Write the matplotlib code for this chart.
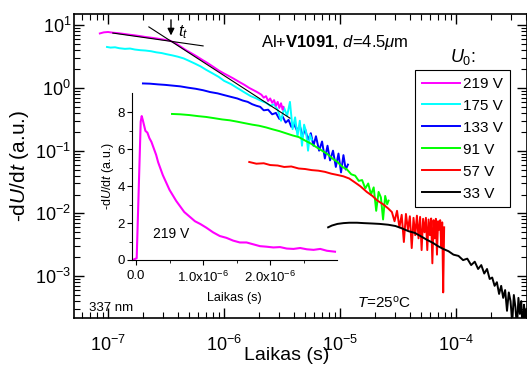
import matplotlib
matplotlib.use("Agg")
import matplotlib.pyplot as plt
import numpy as np

plt.rcParams['font.family'] = ['Liberation Sans', 'DejaVu Sans']
plt.rcParams['mathtext.fontset'] = 'custom'
plt.rcParams['mathtext.rm'] = 'Liberation Sans'
plt.rcParams['mathtext.it'] = 'Liberation Sans:italic'
plt.rcParams['mathtext.bf'] = 'Liberation Sans:bold'

# --- duomenys (nuskaityta is grafiko) ---
t_219 = [8.5e-8, 9.2e-8, 1.0e-7, 1.1e-7, 1.2e-7, 1.35e-7, 1.5e-7, 1.7e-7, 1.9e-7, 2.1e-7,
         2.4e-7, 2.7e-7, 3.0e-7, 3.4e-7, 3.8e-7, 4.2e-7, 4.7e-7, 5.2e-7, 5.8e-7, 6.5e-7,
         7.2e-7, 8.0e-7, 9.0e-7, 1.0e-6, 1.1e-6, 1.2e-6, 1.35e-6, 1.5e-6, 1.65e-6, 1.8e-6,
         1.95e-6, 2.1e-6, 2.2e-6, 2.3e-6, 2.4e-6, 2.5e-6, 2.6e-6, 2.7e-6, 2.8e-6, 2.9e-6,
         3.0e-6, 3.1e-6, 3.2e-6, 3.25e-6]
y_219 = [7.4, 7.7, 7.8, 7.6, 7.5, 7.3, 7.1, 6.9, 6.7, 6.5,
         6.3, 6.1, 5.9, 5.7, 5.2, 4.6, 4.0, 3.6, 3.2, 2.8,
         2.5, 2.2, 1.9, 1.7, 1.55, 1.42, 1.25, 1.12, 1.0, 0.92,
         0.85, 0.78, 0.70, 0.74, 0.62, 0.68, 0.58, 0.64, 0.52, 0.60,
         0.48, 0.57, 0.45, 0.50]

t_175 = [9.8e-8, 1.05e-7, 1.15e-7, 1.25e-7, 1.4e-7, 1.55e-7, 1.7e-7, 1.9e-7, 2.1e-7, 2.35e-7,
         2.6e-7, 2.9e-7, 3.2e-7, 3.6e-7, 4.0e-7, 4.5e-7, 5.0e-7, 5.6e-7, 6.3e-7, 7.0e-7,
         8.0e-7, 9.0e-7, 1.0e-6, 1.15e-6, 1.3e-6, 1.5e-6, 1.7e-6, 1.9e-6, 2.1e-6, 2.3e-6,
         2.5e-6, 2.7e-6, 2.9e-6, 3.1e-6, 3.3e-6, 3.5e-6, 3.7e-6, 3.9e-6, 4.1e-6, 4.3e-6,
         4.5e-6, 4.7e-6, 4.9e-6, 5.1e-6, 5.3e-6, 5.5e-6, 5.7e-6]
y_175 = [4.5, 4.4, 4.45, 4.3, 4.2, 4.25, 4.1, 4.0, 3.95, 3.85,
         3.7, 3.6, 3.45, 3.3, 3.15, 2.95, 2.7, 2.45, 2.2, 1.95,
         1.7, 1.5, 1.3, 1.15, 1.0, 0.85, 0.74, 0.68, 0.62, 0.58,
         0.52, 0.55, 0.45, 0.30, 0.48, 0.36, 0.60, 0.22, 0.34, 0.17,
         0.30, 0.12, 0.26, 0.20, 0.10, 0.18, 0.15]

t_133 = [2.0e-7, 2.3e-7, 2.7e-7, 3.1e-7, 3.6e-7, 4.2e-7, 4.9e-7, 5.7e-7, 6.6e-7, 7.6e-7,
         8.8e-7, 1.0e-6, 1.15e-6, 1.3e-6, 1.45e-6, 1.6e-6, 1.75e-6, 1.9e-6, 2.05e-6, 2.2e-6,
         2.4e-6, 2.6e-6, 2.8e-6, 3.0e-6, 3.2e-6, 3.4e-6, 3.6e-6, 3.8e-6, 4.0e-6, 4.25e-6,
         4.5e-6, 4.75e-6, 5.0e-6, 5.3e-6, 5.6e-6, 5.9e-6, 6.2e-6, 6.6e-6, 7.0e-6, 7.4e-6,
         7.8e-6, 8.2e-6, 8.7e-6, 9.2e-6, 9.7e-6, 1.02e-5, 1.07e-5, 1.12e-5, 1.17e-5]
y_133 = [1.18, 1.17, 1.14, 1.12, 1.09, 1.06, 1.01, 0.97, 0.92, 0.86,
         0.82, 0.77, 0.72, 0.68, 0.63, 0.60, 0.55, 0.52, 0.50, 0.44,
         0.45, 0.38, 0.40, 0.32, 0.35, 0.28, 0.31, 0.24, 0.27, 0.21,
         0.25, 0.17, 0.22, 0.15, 0.19, 0.12, 0.17, 0.10, 0.14, 0.075,
         0.12, 0.07, 0.10, 0.055, 0.09, 0.045, 0.085, 0.05, 0.06]

t_91 = [3.56e-7, 4.2e-7, 5.0e-7, 6.0e-7, 7.0e-7, 8.2e-7, 9.6e-7, 1.12e-6, 1.3e-6, 1.5e-6,
        1.75e-6, 2.0e-6, 2.3e-6, 2.6e-6, 3.0e-6, 3.4e-6, 3.9e-6, 4.4e-6, 5.0e-6, 5.6e-6,
        6.2e-6, 7.0e-6, 7.8e-6, 8.6e-6, 9.5e-6, 1.05e-5, 1.15e-5, 1.25e-5, 1.35e-5, 1.45e-5,
        1.55e-5, 1.65e-5, 1.75e-5, 1.85e-5, 1.95e-5, 2.05e-5, 2.15e-5, 2.25e-5, 2.35e-5, 2.45e-5,
        2.55e-5, 2.62e-5]
y_91 = [0.385, 0.38, 0.37, 0.355, 0.345, 0.33, 0.315, 0.305, 0.29, 0.275,
        0.26, 0.25, 0.235, 0.22, 0.205, 0.19, 0.175, 0.165, 0.145, 0.13,
        0.115, 0.10, 0.088, 0.075, 0.066, 0.055, 0.050, 0.042, 0.040, 0.033,
        0.034, 0.025, 0.030, 0.020, 0.026, 0.011, 0.022, 0.018, 0.008, 0.019,
        0.014, 0.016]

t_57 = [1.65e-6, 1.9e-6, 2.2e-6, 2.5e-6, 2.9e-6, 3.3e-6, 3.8e-6, 4.4e-6, 5.0e-6, 5.7e-6,
        6.5e-6, 7.4e-6, 8.4e-6, 9.5e-6, 1.07e-5, 1.2e-5, 1.35e-5, 1.5e-5, 1.7e-5, 1.9e-5,
        2.1e-5, 2.35e-5, 2.6e-5, 2.8e-5, 2.95e-5, 3.1e-5, 3.25e-5, 3.4e-5, 3.55e-5, 3.7e-5,
        3.85e-5, 4.0e-5, 4.15e-5, 4.3e-5, 4.45e-5, 4.6e-5, 4.75e-5, 4.9e-5, 5.05e-5, 5.2e-5,
        5.35e-5, 5.5e-5, 5.65e-5, 5.8e-5, 5.95e-5, 6.1e-5, 6.25e-5, 6.4e-5, 6.55e-5, 6.7e-5,
        6.85e-5, 7.0e-5, 7.15e-5, 7.3e-5, 7.45e-5, 7.6e-5, 7.75e-5, 7.9e-5]
y_57 = [0.066, 0.062, 0.063, 0.059, 0.058, 0.055, 0.056, 0.052, 0.051, 0.049,
        0.048, 0.046, 0.043, 0.041, 0.039, 0.036, 0.031, 0.027, 0.022, 0.019,
        0.016, 0.014, 0.012, 0.0105, 0.0075, 0.011, 0.006, 0.0095, 0.0035, 0.0098,
        0.0055, 0.009, 0.0028, 0.0085, 0.0045, 0.0092, 0.004, 0.0088, 0.0026, 0.0082,
        0.0050, 0.0085, 0.0026, 0.0080, 0.0045, 0.0083, 0.0016, 0.0078, 0.0040, 0.0082,
        0.0022, 0.0075, 0.0055, 0.0078, 0.0030, 0.0072, 0.00055, 0.0060]

t_33 = [7.9e-6, 8.5e-6, 9.5e-6, 1.07e-5, 1.2e-5, 1.4e-5, 1.6e-5, 1.9e-5, 2.2e-5, 2.6e-5,
        3.0e-5, 3.4e-5, 3.9e-5, 4.4e-5, 5.0e-5, 5.6e-5, 6.3e-5, 7.0e-5, 7.8e-5, 8.6e-5,
        9.5e-5, 1.05e-4, 1.15e-4, 1.25e-4, 1.35e-4, 1.45e-4, 1.55e-4, 1.65e-4, 1.75e-4, 1.85e-4,
        1.95e-4, 2.05e-4, 2.15e-4, 2.25e-4, 2.35e-4, 2.45e-4, 2.55e-4, 2.65e-4, 2.75e-4, 2.85e-4,
        2.95e-4, 3.05e-4, 3.15e-4, 3.25e-4, 3.35e-4, 3.45e-4, 3.55e-4, 3.65e-4, 3.75e-4, 3.85e-4,
        3.95e-4, 4.05e-4]
y_33 = [0.0060, 0.0064, 0.0068, 0.0070, 0.0071, 0.0071, 0.0070, 0.0069, 0.0068, 0.0066,
        0.0063, 0.0058, 0.0052, 0.0049, 0.0043, 0.0038, 0.0034, 0.0030, 0.0027, 0.0025,
        0.0022, 0.0021, 0.0018, 0.0019, 0.0015, 0.0017, 0.0013, 0.0015, 0.0011, 0.0013,
        0.0009, 0.00095, 0.0007, 0.0008, 0.00052, 0.0007, 0.00045, 0.0006, 0.00028, 0.00055,
        0.0004, 0.00018, 0.0005, 0.00032, 0.00015, 0.00045, 0.00025, 0.0004, 0.00012, 0.00035,
        0.00022, 0.0003]

# tiesines aproksimacijos (t_t nustatymui)
fit1_t = [1.1e-7, 6.6e-7]
fit1_y = [7.5, 4.68]
fit2_t = [2.25e-7, 3.7e-6]
fit2_y = [9.4, 0.33]
t_tr = 3.49e-7

# iterpas: 219 V tiesine skale
ti = [-0.05e-6, 0.01e-6, 0.07e-6, 0.085e-6, 0.1e-6, 0.12e-6, 0.14e-6, 0.17e-6, 0.2e-6, 0.23e-6,
      0.26e-6, 0.3e-6, 0.33e-6, 0.36e-6, 0.4e-6, 0.45e-6, 0.5e-6, 0.55e-6, 0.6e-6, 0.66e-6,
      0.72e-6, 0.8e-6, 0.88e-6, 0.96e-6, 1.05e-6, 1.15e-6, 1.25e-6, 1.35e-6, 1.45e-6, 1.55e-6,
      1.65e-6, 1.75e-6, 1.85e-6, 1.95e-6, 2.05e-6, 2.15e-6, 2.25e-6, 2.35e-6, 2.45e-6, 2.55e-6,
      2.65e-6, 2.75e-6, 2.85e-6, 2.97e-6]
yi = [0.0, 0.1, 7.5, 7.8, 7.6, 7.3, 7.0, 6.9, 6.6, 6.4,
      6.1, 5.7, 5.3, 5.0, 4.6, 4.2, 3.8, 3.5, 3.2, 2.9,
      2.6, 2.35, 2.1, 1.95, 1.75, 1.5, 1.3, 1.2, 1.05, 0.95,
      0.95, 0.85, 0.75, 0.72, 0.68, 0.70, 0.62, 0.60, 0.65, 0.58,
      0.55, 0.60, 0.50, 0.45]

series = [("219 V", t_219, y_219, "#ff00ff"),
          ("175 V", t_175, y_175, "#00ffff"),
          ("133 V", t_133, y_133, "#0000ff"),
          ("91 V", t_91, y_91, "#00ff00"),
          ("57 V", t_57, y_57, "#ff0000"),
          ("33 V", t_33, y_33, "#000000")]
draw_order = [2, 1, 0, 3, 4, 5]

W, H = 527, 365
fig = plt.figure(figsize=(W / 100, H / 100), dpi=100)
ax = fig.add_axes([74 / W, (H - 318) / H, (W - 74) / W, (318 - 14) / H])

lines = {}
for i in draw_order:
    lab, t, y, c = series[i]
    lines[i], = ax.plot(t, y, color=c, lw=1.4, label=lab)

ax.plot(fit1_t, fit1_y, color='k', lw=0.8)
ax.plot(fit2_t, fit2_y, color='k', lw=0.8)
ax.annotate('', xy=(t_tr, 6.2), xytext=(t_tr, 13.5),
            arrowprops=dict(arrowstyle='-|>', color='k', lw=1.0, mutation_scale=10))
ax.text(4.0e-7, 7.8, r'$t_t$', fontsize=12, ha='left', va='center')

ax.set_xscale('log')
ax.set_yscale('log')
ax.set_xlim(5.09e-8, 4.09e-4)
ax.set_ylim(2.15e-4, 15.1)
ax.tick_params(which='both', direction='in', top=True, right=True, labelsize=13)
ax.tick_params(axis='x', which='major', length=7, width=1.0, pad=12)
ax.tick_params(axis='y', which='major', length=7, width=1.0, pad=2)
ax.tick_params(which='minor', length=4, width=0.8)
for s in ax.spines.values():
    s.set_linewidth(1.2)
ax.set_xlabel('Laikas (s)', fontsize=14)
ax.xaxis.set_label_coords((287 - 74) / (W - 74), (318 - 347) / 304)
ax.set_ylabel(r'-d$U$/d$t$ (a.u.)', fontsize=15, labelpad=3)

leg = ax.legend([lines[i] for i in range(6)], [s[0] for s in series],
                loc='upper left', bbox_to_anchor=(415 / W, 1 - 70 / H),
                bbox_transform=fig.transFigure, fontsize=11, frameon=True,
                fancybox=False, edgecolor='k', framealpha=1, handlelength=2.5,
                handletextpad=0.2, labelspacing=0.52, borderpad=0.45, borderaxespad=0)
leg.get_frame().set_linewidth(0.8)

fig.text(261 / W, 1 - 43 / H, r'Al+$\mathbf{V1091}$, $d$=4.5$\mu$m', fontsize=12,
         ha='left', va='center')
fig.text(463 / W, 1 - 57 / H, r'$U_0$:', fontsize=13, ha='center', va='center')
fig.text(357 / W, 1 - 303 / H, r'$T$=25$^\mathrm{o}$C', fontsize=11, ha='left', va='center')
fig.text(89 / W, 1 - 308 / H, '337 nm', fontsize=9.5, ha='left', va='center')

# iterpas
axi = fig.add_axes([132 / W, (H - 260) / H, (337 - 132) / W, (260 - 93) / H])
axi.patch.set_alpha(0)
axi.plot(ti, yi, color='#ff00ff', lw=1.5)
axi.set_xlim(-0.06e-6, 3.0e-6)
axi.set_ylim(0, 9.05)
axi.spines['top'].set_visible(False)
axi.spines['right'].set_visible(False)
axi.set_xticks([0, 1e-6, 2e-6])
axi.set_xticklabels(['0.0', r'1.0x10$^{-6}$', r'2.0x10$^{-6}$'])
axi.set_xticks([0.5e-6, 1.5e-6, 2.5e-6], minor=True)
axi.set_yticks([0, 2, 4, 6, 8])
axi.set_yticks([1, 3, 5, 7], minor=True)
axi.tick_params(which='both', direction='out', labelsize=9.5)
axi.tick_params(axis='x', which='major', length=3.5, pad=3.5)
axi.tick_params(axis='y', which='major', length=3.5, pad=1.5)
axi.tick_params(which='minor', length=2)
axi.set_xlabel('Laikas (s)', fontsize=9, labelpad=5)
axi.set_ylabel(r'-d$U$/d$t$ (a.u.)', fontsize=9, labelpad=1.5)
axi.text(0.25e-6, 1.4, '219 V', fontsize=10, ha='left', va='center')

fig.savefig('out.png', dpi=100)
